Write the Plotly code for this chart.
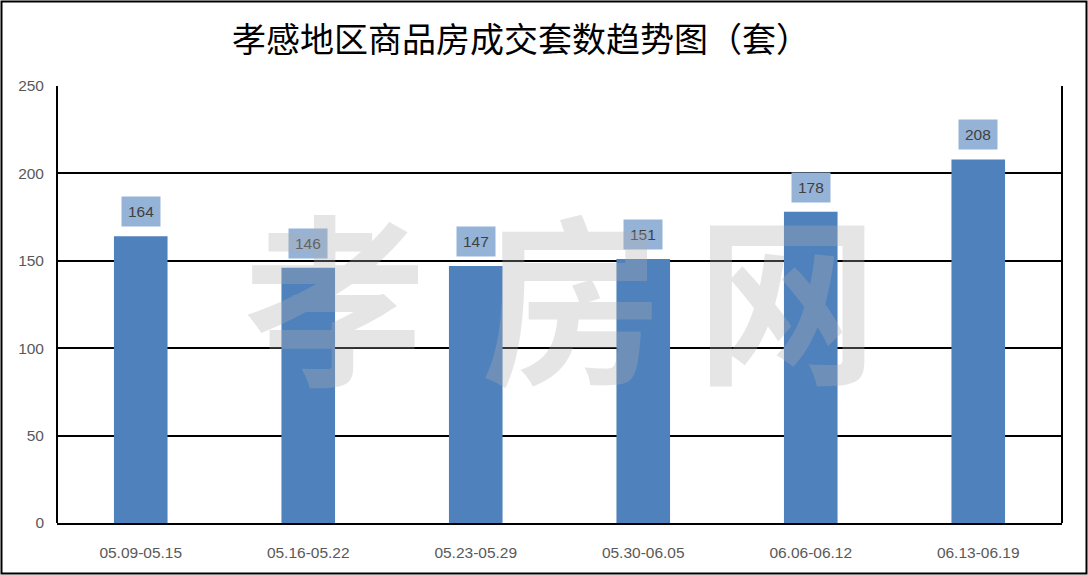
import plotly.graph_objects as go

categories = ["05.09-05.15", "05.16-05.22", "05.23-05.29", "05.30-06.05", "06.06-06.12", "06.13-06.19"]
values = [164, 146, 147, 151, 178, 208]
y_ticks = [0, 50, 100, 150, 200, 250]
title_text = "孝感地区商品房成交套数趋势图（套）"
watermark_chars = ["孝", "房", "网"]

W, H = 1088, 575
ml, mr, mt, mb = 57, 26, 86, 52
pw, ph = W - ml - mr, H - mt - mb

def px_to_paper_x(px):
    return (px - ml) / pw

def px_to_paper_y(py):
    return (H - mb - py) / ph

fig = go.Figure()
fig.add_trace(go.Bar(
    x=categories, y=values,
    marker=dict(color="#4F81BD", line=dict(width=0)),
    width=0.32,
    hoverinfo="x+y",
))

annotations = []
for c, v in zip(categories, values):
    annotations.append(dict(
        x=c, y=v, xref="x", yref="y",
        text=str(v), showarrow=False,
        yanchor="bottom", yshift=9,
        bgcolor="#95B3D7", borderpad=6,
        font=dict(family="Liberation Sans, Arial, sans-serif", size=15.5, color="#404040"),
    ))

# semi-transparent watermark, one character per annotation
wm_centers_px = [335, 572, 787]
for ch, cx in zip(watermark_chars, wm_centers_px):
    annotations.append(dict(
        x=px_to_paper_x(cx), y=px_to_paper_y(290), xref="paper", yref="paper",
        text=ch, showarrow=False,
        xanchor="center", yanchor="middle",
        font=dict(family="Noto Sans CJK SC", size=182, color="rgba(175,175,175,0.32)", weight="bold"),
    ))

shapes = [
    dict(type="rect", xref="paper", yref="paper",
         x0=px_to_paper_x(1.5), x1=px_to_paper_x(1086.5),
         y0=px_to_paper_y(573.5), y1=px_to_paper_y(1.5),
         line=dict(color="black", width=2), fillcolor="rgba(0,0,0,0)", layer="above"),
    dict(type="line", xref="paper", yref="paper", x0=0, x1=0, y0=0, y1=1,
         line=dict(color="black", width=2)),
    dict(type="line", xref="paper", yref="paper", x0=1, x1=1, y0=0, y1=1,
         line=dict(color="black", width=2)),
]

tick_font = dict(family="Liberation Sans, Arial, sans-serif", size=15.5, color="#595959")

fig.update_layout(
    width=W, height=H,
    margin=dict(l=ml, r=mr, t=mt, b=mb),
    paper_bgcolor="white", plot_bgcolor="white",
    title=dict(text=title_text, x=521 / W, xanchor="center", y=1 - 40 / H, yanchor="middle",
               font=dict(family="Noto Sans CJK SC", size=34, color="black")),
    showlegend=False,
    bargap=0.68,
    annotations=annotations,
    shapes=shapes,
    xaxis=dict(
        showgrid=False, showline=True, linecolor="black", linewidth=2,
        ticks="", tickfont=tick_font, ticklabelstandoff=14,
    ),
    yaxis=dict(
        range=[0, 250], tickvals=y_ticks, showgrid=True, gridcolor="black", gridwidth=2,
        zeroline=False, showline=False, ticks="",
        tickfont=tick_font, ticklabelstandoff=12,
    ),
)

fig.write_html("out.html", config={"displayModeBar": False},
               post_script="document.body.style.margin='0';")
